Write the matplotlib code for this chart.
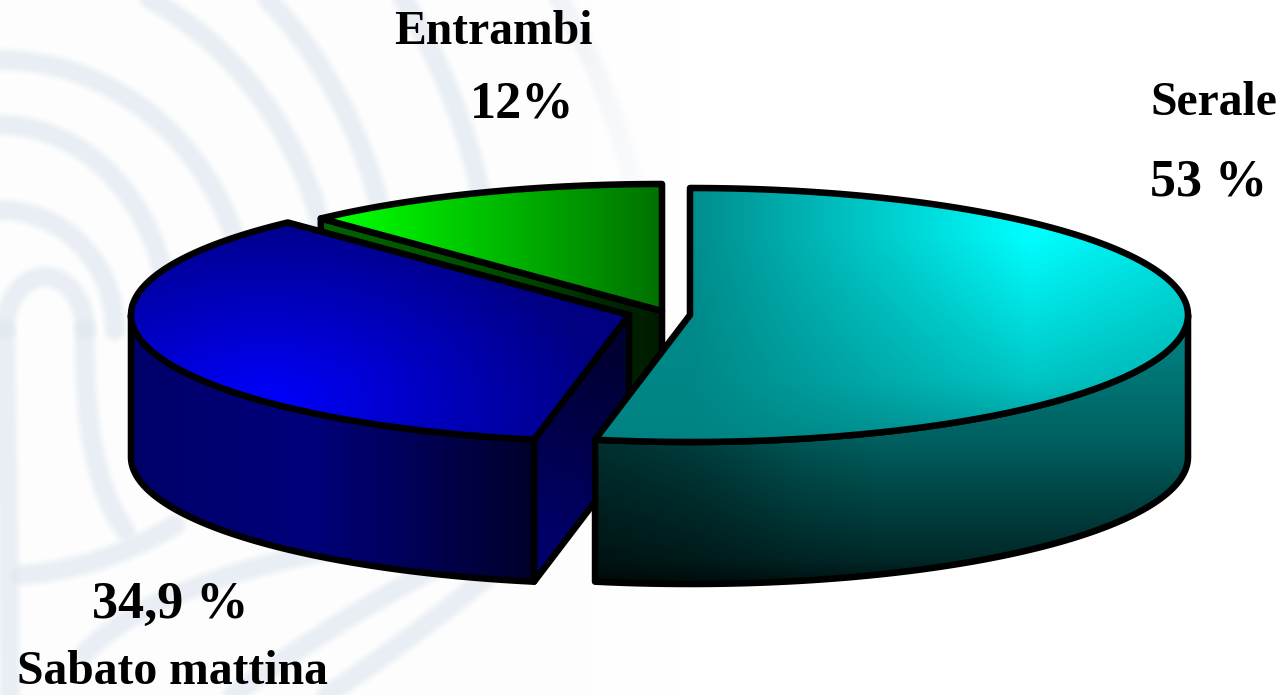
import numpy as np
import matplotlib
matplotlib.use("Agg")
import matplotlib.pyplot as plt
from matplotlib.patches import Polygon, PathPatch
from matplotlib.path import Path

# ---- data ----
categories = ["Serale", "Sabato mattina", "Entrambi"]
values = [53.0, 34.9, 12.0]
value_labels = ["53 %", "34,9 %", "12%"]

W, H = 1285, 695
RX, RY, DEPTH = 498, 127, 142
APEX = [(690, 315), (629, 315), (662, 311)]
LW = 4.7

fig = plt.figure(figsize=(W / 100, H / 100), dpi=100, facecolor="#fdfdfd")
ax = fig.add_axes([0, 0, 1, 1])
ax.set_axis_off()
ax.set_xlim(0, W)
ax.set_ylim(H, 0)
XX, YY = np.meshgrid(np.arange(W) + .5, np.arange(H) + .5)
EXT = (0, W, H, 0)


def soft(path_x, path_y=None, path=None):
    for lw, a in ((19, .14), (16, .18), (13, .24), (10, .3)):
        if path is None:
            ax.plot(path_x, path_y, color="#e0e8f0", lw=lw, alpha=a, zorder=1,
                    solid_capstyle="round")
        else:
            ax.add_patch(PathPatch(path, fill=False, ec="#e0e8f0", lw=lw, alpha=a,
                                   zorder=1, capstyle="round"))


# watermark arcs (background decoration)
for rx, ry in ((115, 120), (170, 205), (250, 270), (335, 370),
               (395, 450), (495, 570), (650, 650)):
    t = np.linspace(0, np.pi / 2, 80)
    soft(rx * np.sin(t), 330 - ry * np.cos(t))
t = np.linspace(-np.pi / 2, np.pi / 2, 80)
soft(45 + 40 * np.sin(t), 330 - 53 * np.cos(t))
for p0, p1, p2 in (((85, 653), (150, 585), (340, 548)),
                   ((233, 695), (350, 610), (470, 550)),
                   ((327, 695), (440, 620), (530, 540)),
                   ((20, 575), (100, 570), (175, 525)),
                   ((85, 330), (82, 470), (125, 530)),
                   ((5, 330), (8, 500), (10, 695))):
    soft(None, path=Path([p0, p1, p2], [Path.MOVETO, Path.CURVE3, Path.CURVE3]))
fade = np.ones((H, W, 4))
fade[..., 3] = np.clip((XX - 510) / 170, 0, 1)
ax.imshow(fade, extent=EXT, aspect="auto", zorder=2, interpolation="bilinear")


def ramp(t, stops):
    t = np.clip(t, 0, 1)
    pos = [s[0] for s in stops]
    return np.dstack([np.interp(t, pos, [s[1][i] for s in stops]) / 255 for i in range(3)])


def radial(cx, cy, sy, scale):
    return np.hypot(XX - cx, (YY - cy) * sy) / scale


def linear(x0, x1):
    return (XX - x0) / (x1 - x0)


def cyan(level):
    return np.dstack([np.zeros_like(level), level / 255, level / 255])


def face(verts, img, z):
    poly = Polygon(verts, closed=True, transform=ax.transData, fc="none", ec="none")
    ax.add_patch(poly)
    im = ax.imshow(img, extent=EXT, aspect="auto", zorder=z, interpolation="bilinear")
    im.set_clip_path(poly)
    ax.add_patch(Polygon(verts, closed=True, fill=False, ec="black", lw=LW,
                         joinstyle="round", zorder=z + .5))


def arc(apex, a0, a1, dy=0):
    th = np.radians(np.linspace(a0, a1, 160))
    return np.c_[apex[0] + RX * np.sin(th), apex[1] - RY * np.cos(th) + dy]


fracs = np.array(values) / np.sum(values) * 360
edges = np.r_[0, np.cumsum(fracs)]
edges[-1] = 360

# --- Entrambi (drawn first, furthest back) ---
a0, a1 = edges[2], edges[3]
g = APEX[2]
start = arc(g, a0, a0)[0]
face([start, g, (g[0], g[1] + DEPTH), start + (0, DEPTH)],
     ramp(linear(300, 662), [(0, (0, 105, 0)), (.6, (0, 72, 0)), (.9, (0, 32, 0)), (1, (0, 28, 0))]), 3)
face(np.vstack([[g], arc(g, a0, a1)]),
     ramp(linear(345, 662), [(0, (0, 255, 0)), (1, (0, 112, 0))]), 4)

# --- Sabato mattina ---
a0, a1 = edges[1], edges[2]
b = APEX[1]
cut = arc(b, a0, a0)[0]
face([b, cut, cut + (0, DEPTH), (b[0], b[1] + DEPTH)],
     ramp((YY - XX * .4 - 110) / 330, [(0, (0, 0, 50)), (1, (0, 0, 135))]), 5)
front = arc(b, a0, 270)
face(np.vstack([front, (front + (0, DEPTH))[::-1]]),
     ramp(linear(130, 536), [(0, (0, 0, 105)), (.45, (0, 0, 122)), (1, (0, 0, 42))]), 6)
face(np.vstack([[b], arc(b, a0, a1)]),
     ramp(radial(265, 405, 1.7, 340), [(0, (0, 0, 255)), (1, (0, 0, 128))]), 7)

# --- Serale ---
a0, a1 = edges[0], edges[1]
c = APEX[0]
front = arc(c, 90, a1)
side_y = np.interp(YY, [340, 440, 480, 560, 585], [128, 96, 76, 40, 16])
side_x = np.interp(XX, [597, 700, 800, 880], [.5, .65, .9, 1])
face(np.vstack([front, (front + (0, DEPTH))[::-1]]), cyan(side_y * side_x), 8)
top_x = np.interp(XX, [690, 900, 1030, 1188], [140, 210, 255, 225])
top_y = np.interp(YY, [235, 300, 380, 445], [1, .8, .55, .15])
face(np.vstack([[c], arc(c, a0, a1)]), cyan(128 + (top_x - 128) * top_y), 9)

# --- labels ---
font = dict(family="Liberation Serif", weight="bold", color="black",
            ha="left", va="baseline", zorder=20)
ax.text(1150, 115, categories[0], fontsize=34.3, **font)
ax.text(1150, 195, value_labels[0], fontsize=37.5, **font)
ax.text(92, 618, value_labels[1], fontsize=37.5, **font)
ax.text(17, 684, categories[1], fontsize=34.3, **font)
ax.text(394, 44, categories[2], fontsize=34.3, **font)
ax.text(470, 118, value_labels[2], fontsize=37.5, **font)

ax.set_xlim(0, W)
ax.set_ylim(H, 0)
fig.savefig("out.png", dpi=100, facecolor=fig.get_facecolor())
